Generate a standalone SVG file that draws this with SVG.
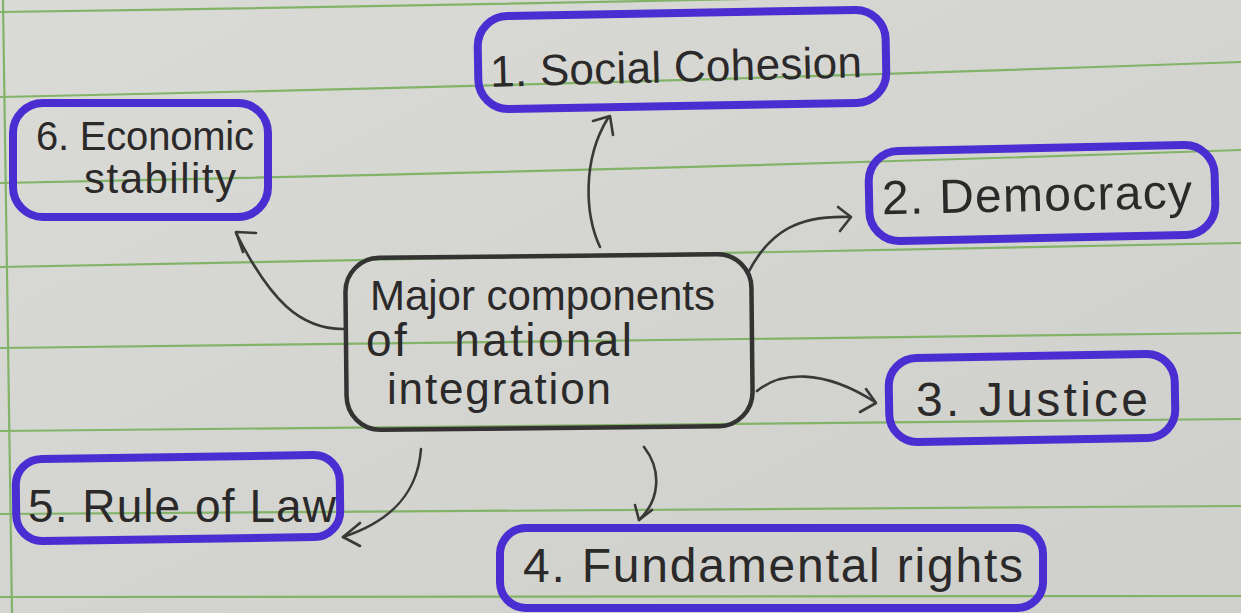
<svg xmlns="http://www.w3.org/2000/svg" width="1241" height="613" viewBox="0 0 1241 613">
  <defs>
    <linearGradient id="paper" x1="0" y1="0" x2="1" y2="1">
      <stop offset="0" stop-color="#dadbd6"/>
      <stop offset="0.5" stop-color="#d4d5d0"/>
      <stop offset="1" stop-color="#cfd0cb"/>
    </linearGradient>
    <style>
      .rule { stroke: #82b368; stroke-width: 2.2; fill: none; }
      .topic { fill: none; stroke: #4a2ed2; stroke-width: 8; stroke-linejoin: round; }
      .hub { fill: none; stroke: #343233; stroke-width: 4.5; stroke-linejoin: round; }
      .ink { fill: #2b292a; font-family: "Liberation Sans", "Noto Sans", sans-serif; }
      .wire { fill: none; stroke: #3a3839; stroke-width: 2.6; stroke-linecap: round; stroke-linejoin: round; }
    </style>
  </defs>

  <!-- ruled notebook page -->
  <rect width="1241" height="613" fill="url(#paper)"/>
  <g id="ruling">
    <path class="rule" d="M0,12 Q620,3 1241,-12"/>
    <path class="rule" d="M0,97 Q620,84 1241,62"/>
    <path class="rule" d="M0,183 Q620,171 1241,150"/>
    <path class="rule" d="M0,267 Q620,256 1241,243"/>
    <path class="rule" d="M0,348 Q620,340 1241,333"/>
    <path class="rule" d="M0,431 Q620,426 1241,419"/>
    <path class="rule" d="M0,514 Q620,510 1241,506"/>
    <path class="rule" d="M0,597 Q620,598 1241,596"/>
    <path class="rule" d="M3,0 L12,613"/>
  </g>

  <!-- central topic -->
  <g id="node-center">
    <rect class="hub" x="346" y="256" width="406" height="172" rx="34" transform="rotate(-0.6 549 342)"/>
    <text class="ink" x="370" y="310" font-size="42" textLength="345" lengthAdjust="spacing">Major components</text>
    <text class="ink" x="366" y="356" font-size="46" word-spacing="30" textLength="266" lengthAdjust="spacing">of national</text>
    <text class="ink" x="387" y="404" font-size="44" textLength="224" lengthAdjust="spacing">integration</text>
  </g>

  <g id="node-social-cohesion">
    <rect class="topic" x="478" y="13" width="408" height="93" rx="30" transform="rotate(-1 682 60)"/>
    <text class="ink" x="490" y="82" font-size="44" textLength="372" lengthAdjust="spacing" transform="rotate(-1.5 676 70)">1. Social Cohesion</text>
  </g>

  <g id="node-democracy">
    <rect class="topic" x="869" y="148" width="346" height="90" rx="30" transform="rotate(-1.2 1042 193)"/>
    <text class="ink" x="882" y="211" font-size="48" textLength="310" lengthAdjust="spacing" transform="rotate(-1.2 1038 200)">2. Democracy</text>
  </g>

  <g id="node-justice">
    <rect class="topic" x="889" y="356" width="286" height="84" rx="28" transform="rotate(-1 1032 398)"/>
    <text class="ink" x="916" y="416" font-size="48" textLength="232" lengthAdjust="spacing">3.  Justice</text>
  </g>

  <g id="node-fundamental-rights">
    <rect class="topic" x="500" y="528" width="543" height="80" rx="26"/>
    <text class="ink" x="523" y="582" font-size="48" textLength="500" lengthAdjust="spacing">4. Fundamental rights</text>
  </g>

  <g id="node-rule-of-law">
    <rect class="topic" x="16" y="457" width="324" height="82" rx="26" transform="rotate(-0.8 178 498)"/>
    <text class="ink" x="28" y="522" font-size="46" textLength="308" lengthAdjust="spacing">5. Rule of Law</text>
  </g>

  <g id="node-economic-stability">
    <rect class="topic" x="13" y="103" width="255" height="114" rx="30"/>
    <text class="ink" x="36" y="150" font-size="40" textLength="218" lengthAdjust="spacing">6. Economic</text>
    <text class="ink" x="84" y="193" font-size="42" textLength="152" lengthAdjust="spacing">stability</text>
  </g>

  <!-- hand-drawn arrows from the central topic -->
  <g id="connectors">
    <path class="wire" d="M600,247 C585,215 582,160 608,118"/>
    <path class="wire" d="M593,121 L610,116 L613,135"/>

    <path class="wire" d="M748,273 C770,230 800,215 850,217"/>
    <path class="wire" d="M838,207 L851,217 L840,231"/>

    <path class="wire" d="M757,391 C780,372 822,368 875,402"/>
    <path class="wire" d="M866,389 L876,403 L860,412"/>

    <path class="wire" d="M644,447 C662,470 660,500 639,520"/>
    <path class="wire" d="M635,505 L639,520 L652,510"/>

    <path class="wire" d="M421,449 C418,490 395,520 343,537"/>
    <path class="wire" d="M360,523 L343,537 L360,546"/>

    <path class="wire" d="M345,329 C300,330 270,300 236,233"/>
    <path class="wire" d="M256,233 L236,232 L243,252"/>
  </g>
</svg>
